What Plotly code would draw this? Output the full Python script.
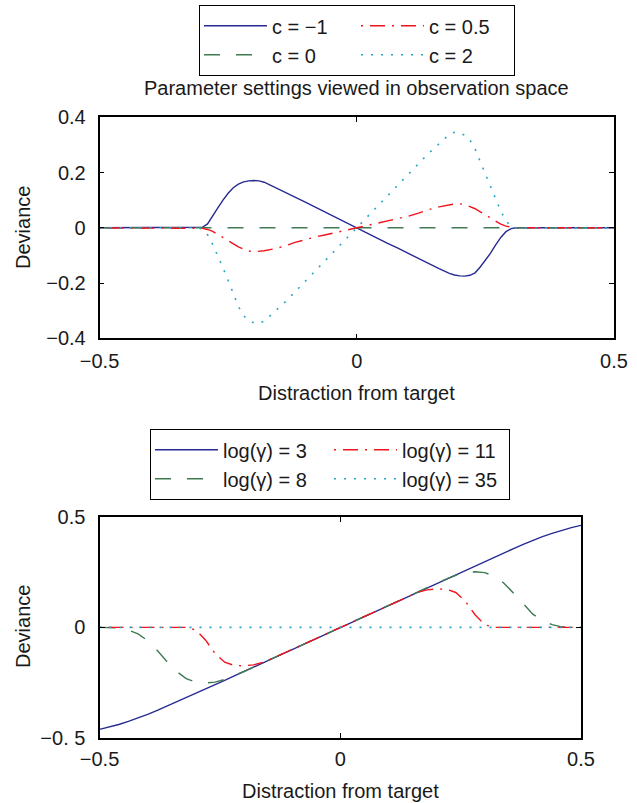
import plotly.graph_objects as go

# ---------------- data: top panel ----------------
x_top = [-0.5, -0.32, -0.31, -0.30, -0.29, -0.28, -0.27, -0.26, -0.25, -0.24, -0.23, -0.22,
         -0.21, -0.20, -0.19, -0.18, -0.16, -0.14, -0.12, -0.10, -0.08, -0.06, -0.04, -0.02,
         0.0,
         0.02, 0.04, 0.06, 0.08, 0.10, 0.12, 0.14, 0.16, 0.18, 0.19, 0.20, 0.21,
         0.22, 0.23, 0.24, 0.25, 0.26, 0.27, 0.28, 0.29, 0.30, 0.31, 0.32, 0.5]

c_neg1 = [0, 0, 0, 0.002, 0.014, 0.045, 0.072, 0.100, 0.125, 0.145, 0.158, 0.166,
          0.170, 0.171, 0.170, 0.165, 0.148, 0.130, 0.111, 0.093, 0.074, 0.056, 0.037, 0.019,
          0.0,
          -0.019, -0.037, -0.056, -0.074, -0.093, -0.111, -0.130, -0.148, -0.165, -0.171, -0.174, -0.175,
          -0.172, -0.163, -0.142, -0.118, -0.092, -0.062, -0.035, -0.014, -0.003, 0, 0, 0]

c_0 = [0, 0, 0, 0, 0, 0, 0, 0, 0, 0, 0, 0,
       0, 0, 0, 0, 0, 0, 0, 0, 0, 0, 0, 0,
       0,
       0, 0, 0, 0, 0, 0, 0, 0, 0, 0, 0, 0,
       0, 0, 0, 0, 0, 0, 0, 0, 0, 0, 0, 0]

c_05 = [0, 0, 0, -0.002, -0.006, -0.013, -0.024, -0.036, -0.047, -0.058, -0.069, -0.077,
        -0.084, -0.087, -0.086, -0.083, -0.076, -0.066, -0.053, -0.042, -0.033, -0.025, -0.016, -0.008,
        0.0,
        0.008, 0.016, 0.025, 0.033, 0.042, 0.053, 0.066, 0.076, 0.083, 0.086, 0.087, 0.084,
        0.077, 0.069, 0.058, 0.047, 0.036, 0.024, 0.013, 0.006, 0.002, 0, 0, 0]

c_2 = [0, 0, 0, -0.004, -0.025, -0.060, -0.100, -0.145, -0.190, -0.240, -0.285, -0.318,
       -0.335, -0.344, -0.346, -0.338, -0.305, -0.270, -0.232, -0.193, -0.155, -0.116, -0.077, -0.039,
       0.0,
       0.039, 0.077, 0.116, 0.155, 0.193, 0.232, 0.270, 0.305, 0.338, 0.346, 0.344, 0.335,
       0.318, 0.285, 0.240, 0.190, 0.145, 0.100, 0.060, 0.025, 0.004, 0, 0, 0]

# ---------------- data: bottom panel ----------------
x_bot = [-0.50, -0.48, -0.46, -0.44, -0.42, -0.40, -0.38, -0.36, -0.34, -0.32,
         -0.30, -0.28, -0.26, -0.24, -0.22, -0.20, -0.18, -0.16, -0.14, -0.12,
         -0.10, -0.08, -0.06, -0.04, -0.02, 0.00, 0.02, 0.04, 0.06, 0.08,
         0.10, 0.12, 0.14, 0.16, 0.18, 0.20, 0.22, 0.24, 0.26, 0.28,
         0.30, 0.32, 0.34, 0.36, 0.38, 0.40, 0.42, 0.44, 0.46, 0.48, 0.50]

g3 = [-0.462, -0.452, -0.440, -0.426, -0.411, -0.394, -0.376, -0.357, -0.338, -0.319,
      -0.299, -0.280, -0.260, -0.240, -0.220, -0.200, -0.180, -0.160, -0.140, -0.120,
      -0.100, -0.080, -0.060, -0.040, -0.020, 0.000, 0.020, 0.040, 0.060, 0.080,
      0.100, 0.120, 0.140, 0.160, 0.180, 0.200, 0.220, 0.240, 0.260, 0.280,
      0.299, 0.319, 0.338, 0.357, 0.376, 0.394, 0.411, 0.426, 0.440, 0.452, 0.462]

g8 = [0, 0, -0.002, -0.012, -0.030, -0.060, -0.105, -0.155, -0.200, -0.232,
      -0.248, -0.252, -0.248, -0.236, -0.219, -0.200, -0.180, -0.160, -0.140, -0.120,
      -0.100, -0.080, -0.060, -0.040, -0.020, 0.000, 0.020, 0.040, 0.060, 0.080,
      0.100, 0.120, 0.140, 0.160, 0.180, 0.200, 0.219, 0.236, 0.248, 0.252,
      0.248, 0.232, 0.200, 0.155, 0.105, 0.060, 0.030, 0.012, 0.002, 0, 0]

g11 = [0, 0, 0, 0, 0, 0, 0, 0, 0, 0,
       -0.012, -0.057, -0.118, -0.158, -0.173, -0.174, -0.170, -0.158, -0.140, -0.120,
       -0.100, -0.080, -0.060, -0.040, -0.020, 0.000, 0.020, 0.040, 0.060, 0.080,
       0.100, 0.120, 0.140, 0.158, 0.170, 0.174, 0.173, 0.158, 0.118, 0.057,
       0.012, 0, 0, 0, 0, 0, 0, 0, 0, 0, 0]

g35 = [0, 0, 0, 0, 0, 0, 0, 0, 0, 0,
       0, 0, 0, 0, 0, 0, 0, 0, 0, 0,
       0, 0, 0, 0, 0, 0, 0, 0, 0, 0,
       0, 0, 0, 0, 0, 0, 0, 0, 0, 0,
       0, 0, 0, 0, 0, 0, 0, 0, 0, 0, 0]

top_names = ["c = \u22121", "c = 0", "c = 0.5", "c = 2"]
bot_names = ["log(\u03b3) = 3", "log(\u03b3) = 8", "log(\u03b3) = 11", "log(\u03b3) = 35"]
x_title = "Distraction from target"
y_title = "Deviance"
top_title = "Parameter settings viewed in observation space"

# ---------------- styling ----------------
W, H = 637, 803
FONT = "Liberation Sans, Arial, Helvetica, sans-serif"
FS = 20
TXT = "#1a1a1a"
BLUE = "#272b92"
GREEN = "#3f7a52"
RED = "#f0141c"
CYAN = "#27a7c9"
styles = [
    dict(color=BLUE, width=1.4, dash="solid"),
    dict(color=GREEN, width=1.4, dash="16px,16px"),
    dict(color=RED, width=1.4, dash="2px,7px,15px,7px"),
    dict(color=CYAN, width=1.6, dash="2px,8px"),
]
groups = ["a", "a", "b", "b"]

fig = go.Figure()
for name, ys, st, grp in zip(top_names, [c_neg1, c_0, c_05, c_2], styles, groups):
    fig.add_trace(go.Scatter(x=x_top, y=ys, mode="lines", name=name, line=st,
                             xaxis="x", yaxis="y", legend="legend", legendgroup="t" + grp))
for name, ys, st, grp in zip(bot_names, [g3, g8, g11, g35], styles, groups):
    fig.add_trace(go.Scatter(x=x_bot, y=ys, mode="lines", name=name, line=st,
                             xaxis="x2", yaxis="y2", legend="legend2", legendgroup="b" + grp))


def ax(domain, rng, tickvals, ticktext, lw, anchor, tls):
    return dict(domain=domain, range=rng, tickvals=tickvals, ticktext=ticktext,
                ticks="inside", ticklen=5, tickwidth=1, tickcolor="black",
                showline=True, linecolor="black", linewidth=lw, mirror="ticks",
                showgrid=False, zeroline=False, anchor=anchor, automargin=False,
                ticklabelstandoff=tls,
                tickfont=dict(family=FONT, size=FS, color=TXT))


def leg(x, y, ew):
    return dict(x=x / W, y=1 - y / H, xanchor="left", yanchor="top",
                xref="container", yref="container",
                orientation="h", traceorder="grouped", entrywidth=ew, itemwidth=63,
                tracegroupgap=0, bordercolor="black", borderwidth=1.3, bgcolor="white",
                font=dict(family=FONT, size=FS, color=TXT))


def note(text, xp, yp, angle=0):
    return dict(text=text, x=xp / W, y=1 - yp / H, xref="paper", yref="paper",
                xanchor="center", yanchor="middle", showarrow=False, textangle=angle,
                font=dict(family=FONT, size=FS, color=TXT))


fig.update_layout(
    width=W, height=H, margin=dict(l=0, r=0, t=0, b=0, autoexpand=False),
    paper_bgcolor="white", plot_bgcolor="white",
    font=dict(family=FONT, size=FS, color=TXT),
    xaxis=ax([99.5 / W, 614 / W], [-0.5, 0.5], [-0.5, 0, 0.5], ["\u22120.5", "0", "0.5"],
             1.6, "y", 4),
    yaxis=ax([1 - 338.3 / H, 1 - 117.3 / H], [-0.4, 0.4], [-0.4, -0.2, 0, 0.2, 0.4],
             ["\u22120.4", "\u22120.2", "0", "0.2", "0.4"], 1.6, "x", 8),
    xaxis2=ax([99.5 / W, 581 / W], [-0.5, 0.5], [-0.5, 0, 0.5], ["\u22120.5", "0", "0.5"],
              2.2, "y2", 2),
    yaxis2=ax([1 - 737.7 / H, 1 - 517 / H], [-0.5, 0.5], [-0.5, 0, 0.5],
              ["\u22120. 5", "0", "0.5"], 2.2, "x2", 8),
    legend=leg(199, 5, 79),
    legend2=leg(150, 429, 101),
    annotations=[
        note(top_title, 356.5, 88),
        note(x_title, 356.5, 393),
        note(x_title, 340, 791),
        note(y_title, 23, 228, -90),
        note(y_title, 23, 627, -90),
    ],
)

fig.write_html("out.html")
